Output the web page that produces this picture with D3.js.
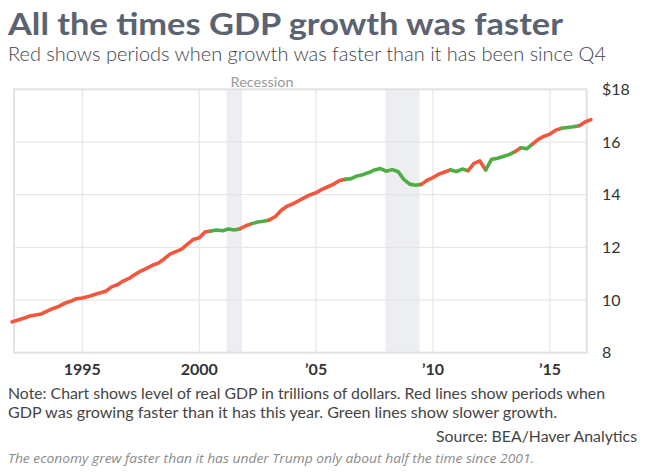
<!DOCTYPE html>
<html><head><meta charset="utf-8">
<script src="https://cdn.jsdelivr.net/npm/d3@7"></script>
<style>
html,body{margin:0;padding:0;background:#fff;}
svg{display:block;}
</style></head>
<body>
<svg id="chart" width="648" height="476"></svg>
<script>
// ---- data ----
const startYear = 1992; // quarterly data from 1992Q1
const gdp = [
  9.17, 9.24, 9.31, 9.39,   // 1992
  9.43, 9.47, 9.58, 9.68,   // 1993
  9.76, 9.88, 9.95, 10.05,  // 1994
  10.08, 10.13, 10.20, 10.27, // 1995
  10.33, 10.50, 10.58, 10.72, // 1996
  10.82, 10.97, 11.10, 11.20, // 1997
  11.32, 11.40, 11.56, 11.74, // 1998
  11.84, 11.93, 12.12, 12.30, // 1999
  12.36, 12.58, 12.62, 12.66, // 2000
  12.63, 12.70, 12.66, 12.71, // 2001
  12.82, 12.90, 12.96, 12.99, // 2002
  13.04, 13.16, 13.40, 13.56, // 2003
  13.65, 13.77, 13.89, 14.00, // 2004
  14.07, 14.20, 14.30, 14.40, // 2005
  14.54, 14.58, 14.61, 14.71, // 2006
  14.76, 14.84, 14.94, 14.99, // 2007
  14.89, 14.95, 14.88, 14.58, // 2008
  14.40, 14.36, 14.39, 14.55, // 2009
  14.65, 14.78, 14.86, 14.94, // 2010
  14.88, 14.97, 14.91, 15.19, // 2011
  15.28, 14.94, 15.34, 15.38, // 2012
  15.45, 15.52, 15.63, 15.78, // 2013
  15.74, 15.92, 16.10, 16.22, // 2014
  16.30, 16.45, 16.52, 16.55, // 2015
  16.58, 16.62, 16.76, 16.85  // 2016
];
// 1 = growth faster (red) on the segment ending at that quarter, 0 = slower (green)
const faster = [
  1,1,1,1, 1,1,1,1, 1,1,1,1, 1,1,1,1, 1,1,1,1, 1,1,1,1, 1,1,1,1, 1,1,1,1, // 1992-1999
  1,1,1,0, // 2000
  0,0,0,0, // 2001
  1,1,0,0, // 2002
  0,1,1,1, // 2003
  1,1,1,1, // 2004
  1,1,1,1, // 2005
  1,1,0,0, // 2006
  0,0,0,0, // 2007
  0,0,0,0, // 2008
  0,0,0,1, // 2009
  1,1,1,1, // 2010
  0,0,0,1, // 2011
  1,1,0,0, // 2012
  0,0,0,1, // 2013
  0,0,1,1, // 2014
  1,1,1,0, // 2015
  0,0,1,1  // 2016
];
const recessions = [[2001.17, 2001.83], [2007.96, 2009.42]];
const xTickYears = [1995, 2000, 2005, 2010, 2015];
const xTickLabels = ["1995", "2000", "\u201905", "\u201910", "\u201915"];
const yTicks = [8, 10, 12, 14, 16, 18];
const yTickLabels = ["8", "10", "12", "14", "16", "$18"];

const title = "All the times GDP growth was faster";
const subtitle = "Red shows periods when growth was faster than it has been since Q4";
const noteLines = [
  "Note: Chart shows level of real GDP in trillions of dollars. Red lines show periods when",
  "GDP was growing faster than it has this year. Green lines show slower growth."
];
const source = "Source: BEA/Haver Analytics";
const caption = "The economy grew faster than it has under Trump only about half the time since 2001.";

// ---- layout ----
const RED = "#f2563c", GREEN = "#4cae43";
const svg = d3.select("#chart");
const plot = {left: 14, right: 586.7, top: 89.3, bottom: 352.7};
const x = d3.scaleLinear().domain([1992.08, 2016.57]).range([plot.left, plot.right]);
const y = d3.scaleLinear().domain([8, 18]).range([plot.bottom, plot.top]);

function fit(sel, w) {
  sel.each(function() {
    const len = this.getComputedTextLength();
    if (Math.abs(len - w) > 1) {
      d3.select(this).attr("textLength", w).attr("lengthAdjust", "spacingAndGlyphs");
    }
  });
}

// title & subtitle
svg.append("text").attr("x", 8).attr("y", 35).text(title)
  .attr("font-family", "Lato").attr("font-weight", 700).attr("font-size", 31)
  .attr("fill", "#5b6270").call(fit, 555);
svg.append("text").attr("x", 8).attr("y", 61).text(subtitle)
  .attr("font-family", "Lato").attr("font-weight", 300).attr("font-size", 19)
  .attr("fill", "#3f444c").call(fit, 598);

// recession shading
svg.append("g").selectAll("rect").data(recessions).join("rect")
  .attr("x", d => x(d[0])).attr("width", d => x(d[1]) - x(d[0]))
  .attr("y", plot.top).attr("height", plot.bottom - plot.top)
  .attr("fill", "#eceef1");
svg.append("text").attr("x", x(recessions[0][0]) + 4).attr("y", 87)
  .text("Recession").attr("font-family", "Lato").attr("font-size", 13)
  .attr("fill", "#9a9a9a").call(fit, 63);

// gridlines
const grid = svg.append("g").attr("stroke", "#e2e2e2").attr("stroke-width", 1);
grid.selectAll("line.h").data(yTicks.slice(1, -1)).join("line")
  .attr("x1", plot.left).attr("x2", plot.right)
  .attr("y1", d => y(d)).attr("y2", d => y(d));
grid.selectAll("line.v").data(xTickYears).join("line")
  .attr("x1", d => x(d)).attr("x2", d => x(d))
  .attr("y1", plot.top).attr("y2", plot.bottom);
// frame
svg.append("rect").attr("x", plot.left).attr("y", plot.top)
  .attr("width", plot.right - plot.left).attr("height", plot.bottom - plot.top)
  .attr("fill", "none").attr("stroke", "#e2e2e2").attr("stroke-width", 2);

// axes labels
svg.append("g").selectAll("text").data(yTicks).join("text")
  .attr("x", 602).attr("y", d => y(d)).attr("dy", "0.36em")
  .text((d, i) => yTickLabels[i])
  .attr("font-family", "Lato").attr("font-size", 16).attr("fill", "#333");
svg.append("g").selectAll("text").data(xTickYears).join("text")
  .attr("x", d => x(d)).attr("y", 375).attr("text-anchor", "middle")
  .text((d, i) => xTickLabels[i])
  .attr("font-family", "Lato").attr("font-weight", 700).attr("font-size", 16).attr("fill", "#333");

// line, split in red / green runs
const pts = gdp.map((v, i) => ({t: startYear + i / 4, v, f: faster[i]}));
const runs = [];
for (let i = 1; i < pts.length; i++) {
  const f = pts[i].f;
  if (!runs.length || runs[runs.length - 1].f !== f) runs.push({f, pts: [pts[i - 1]]});
  runs[runs.length - 1].pts.push(pts[i]);
}
const line = d3.line().x(d => x(d.t)).y(d => y(d.v));
svg.append("g").selectAll("path").data(runs).join("path")
  .attr("d", d => line(d.pts)).attr("fill", "none")
  .attr("stroke", d => d.f ? RED : GREEN).attr("stroke-width", 3.6)
  .attr("stroke-linejoin", "round").attr("stroke-linecap", "round");

// notes
svg.append("g").selectAll("text").data(noteLines).join("text")
  .attr("x", 8).attr("y", (d, i) => 399 + i * 19).text(d => d)
  .attr("font-family", "Lato").attr("font-size", 15.5).attr("fill", "#444")
  .each(function(d, i) { d3.select(this).call(fit, i === 0 ? 597 : 549); });
svg.append("text").attr("x", 637).attr("y", 442).attr("text-anchor", "end").text(source)
  .attr("font-family", "Lato").attr("font-size", 15.5).attr("fill", "#444").call(fit, 201);
svg.append("text").attr("x", 8).attr("y", 463).text(caption)
  .attr("font-family", "Open Sans").attr("font-style", "italic").attr("font-size", 13.5)
  .attr("fill", "#8a8a8a").call(fit, 526);
</script>
</body></html>
